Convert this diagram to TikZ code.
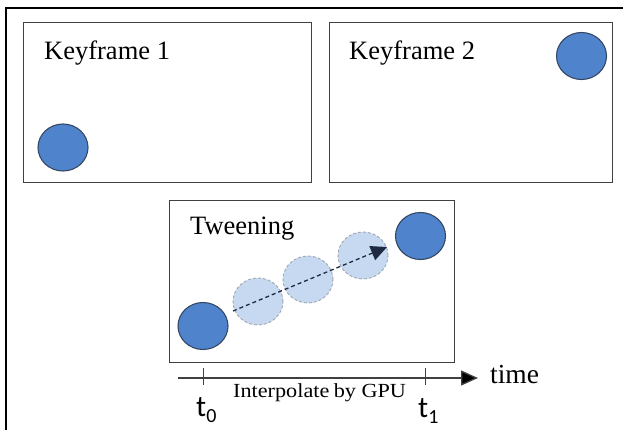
\documentclass[tikz,border=0pt]{standalone}
\usepackage{fontspec}
\setmainfont{Liberation Serif}
\newfontfamily\subfont{Carlito}
\usetikzlibrary{shapes.geometric,arrows.meta}

\definecolor{ballblue}{RGB}{79,132,204}
\definecolor{balledge}{RGB}{52,72,100}
\definecolor{ghostblue}{RGB}{198,217,241}
\definecolor{ghostedge}{RGB}{160,166,176}
\definecolor{framegray}{RGB}{64,64,64}
\definecolor{pathnavy}{RGB}{30,42,64}

\tikzset{
  panel/.style={draw=framegray, line width=1.2pt},
  ball/.style={ellipse, draw=balledge, line width=1.1pt, fill=ballblue,
    minimum width=50pt, minimum height=47pt, inner sep=0pt},
  ghost/.style={ellipse, draw=ghostedge, dashed, dash pattern=on 3pt off 2pt,
    line width=0.9pt, fill=ghostblue, minimum width=50pt, minimum height=47pt, inner sep=0pt},
  title/.style={anchor=base west, inner sep=0pt, font=\fontsize{26.5}{30}\selectfont},
  axlabel/.style={anchor=base west, inner sep=0pt, font=\fontsize{27.5}{30}\selectfont},
  tlabel/.style={anchor=base west, inner sep=0pt, font=\subfont\fontsize{30}{34}\selectfont},
  tick/.style={draw=framegray, line width=1pt},
}
\newcommand{\tsub}[1]{\raisebox{-6pt}{\fontsize{20}{24}\selectfont #1}}

\begin{document}
\begin{tikzpicture}[x=1pt,y=-1pt]
\useasboundingbox (0,0) rectangle (623,430);

% outer frame (open on the right and at the bottom)
\draw[line width=1.6pt] (6,430) -- (6,8) -- (623,8);

% keyframe panels
\node[panel, minimum width=288pt, minimum height=160pt, inner sep=0pt, anchor=north west] (kf1) at (23,22) {};
\node[panel, minimum width=283pt, minimum height=160pt, inner sep=0pt, anchor=north west] (kf2) at (329,22) {};
\node[title] (kf1t) at (44,60) {Keyframe 1};
\node[title] (kf2t) at (349,60) {Keyframe 2};
\node[ball] (kf1b) at (63,147.5) {};
\node[ball] (kf2b) at (581.5,56) {};

% tweening panel
\node[panel, minimum width=285pt, minimum height=162pt, inner sep=0pt, anchor=north west] (tw) at (169,200) {};
\node[title] (twt) at (190,235) {Tweening};
\node[ghost] (g1) at (258,301.5) {};
\node[ghost] (g2) at (308,279.5) {};
\node[ghost] (g3) at (363,255.5) {};
\node[ball] (b0) at (203,326) {};
\node[ball] (b1) at (420.5,236) {};
\coordinate (ps) at (233,311);
\coordinate (pe) at (387,247);
\draw[pathnavy, line width=1.3pt, dash pattern=on 4pt off 3pt,
  -{Triangle[length=16pt,width=15pt]}] (ps) -- (pe);

% time axis
\coordinate (axl) at (178,378);
\coordinate (axr) at (478,378);
\draw[framegray, line width=1.3pt, -{Triangle[length=17pt,width=15pt,fill=black]}] (axl) -- (axr);
\coordinate (k0a) at (203,368); \coordinate (k0b) at (203,385);
\coordinate (k1a) at (425,368); \coordinate (k1b) at (425,385);
\draw[tick] (k0a) -- (k0b);
\draw[tick] (k1a) -- (k1b);
\node[axlabel] (tm) at (490,383) {time};
\node[anchor=base west, inner sep=0pt, font=\fontsize{20}{24}\selectfont, xscale=1.11] (gpu) at (233,397) {Interpolate\kern-1pt\ by GPU};
\node[tlabel] (t0) at (196,416) {t\tsub{0}};
\node[tlabel] (t1) at (418,417) {t\tsub{1}};
\end{tikzpicture}
\end{document}
